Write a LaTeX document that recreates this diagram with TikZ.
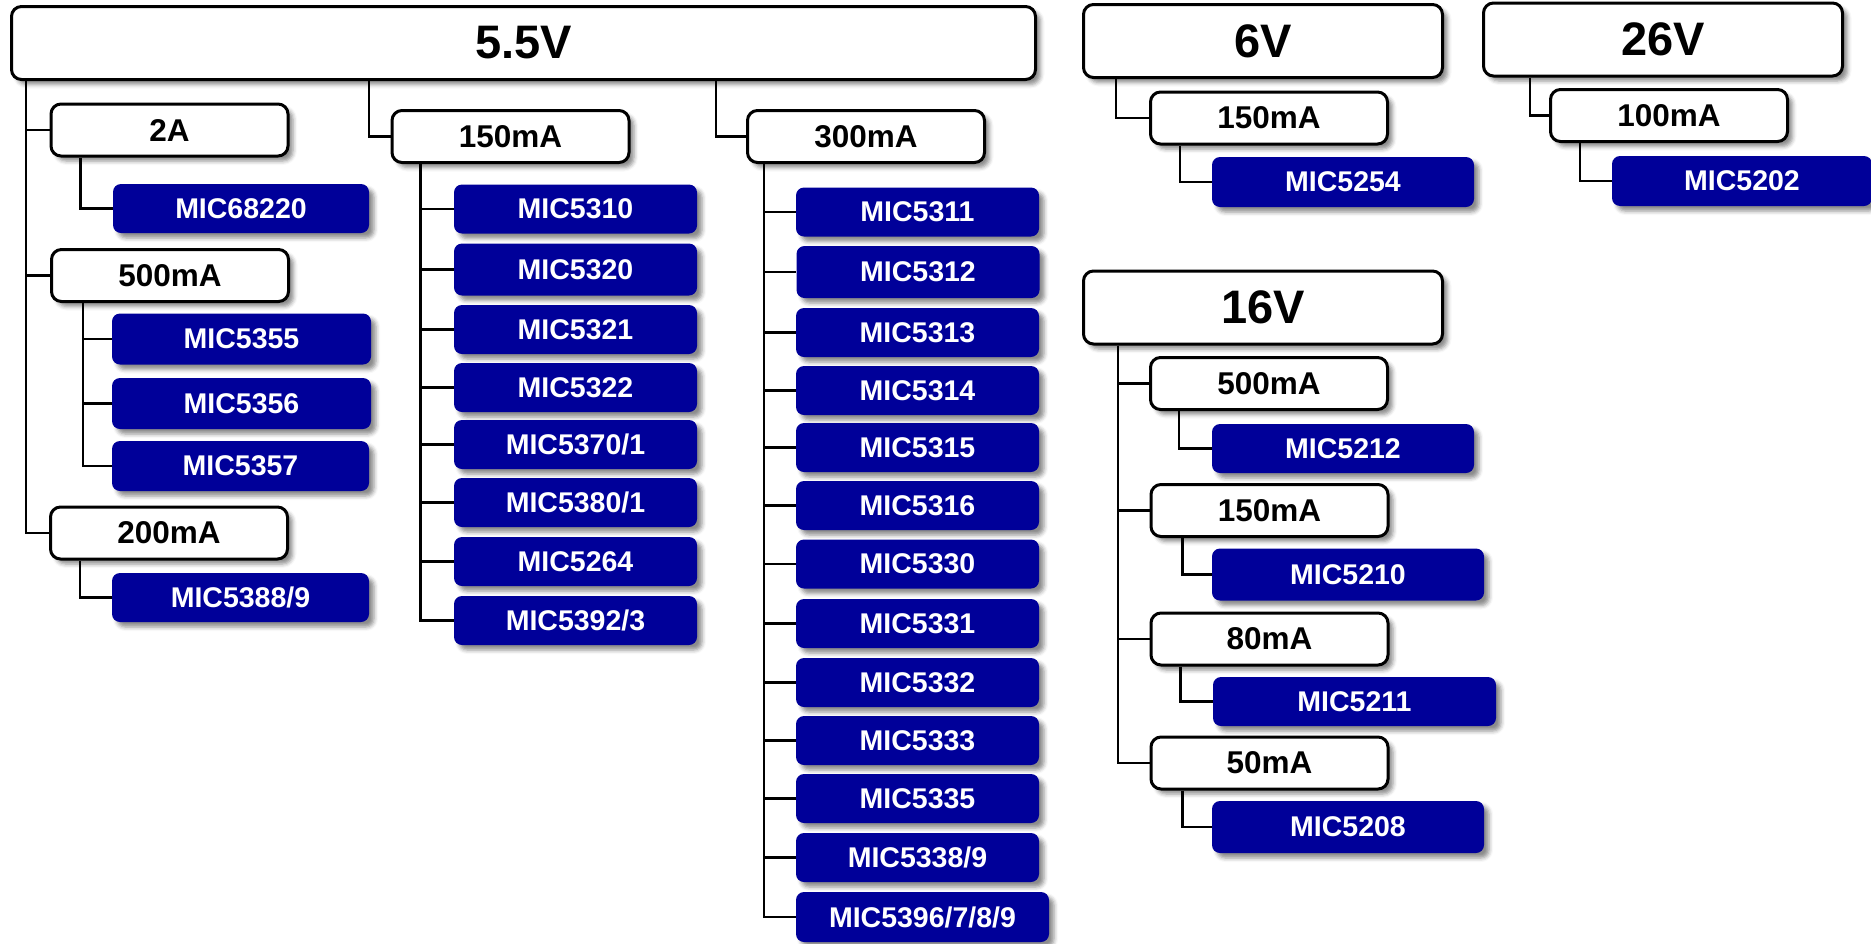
\documentclass[tikz,border=0pt]{standalone}
\usepackage{fontspec}
\setmainfont{Liberation Sans}
\usetikzlibrary{shadows.blur,backgrounds}
\definecolor{micblue}{RGB}{0,0,153}
\tikzset{
  shd/.style={blur shadow={shadow xshift=5pt,shadow yshift=-5pt,shadow opacity=45,shadow blur radius=4pt}},
  wbox/.style={draw=black,line width=3pt,fill=white,rounded corners=10pt,inner sep=0pt,shd},
  vbox/.style={wbox,minimum width=359pt,minimum height=73pt,font=\fontsize{47}{54}\selectfont\bfseries},
  cbox/.style={wbox,minimum width=237pt,minimum height=52pt,font=\fontsize{31.5}{36}\selectfont\bfseries},
  mbox/.style={fill=micblue,text=white,rounded corners=8pt,inner sep=0pt,minimum width=243pt,minimum height=49pt,font=\fontsize{28.5}{33}\selectfont\bfseries,shd},
  conn/.style={draw=black,line width=2.5pt}
}
\begin{document}
\begin{tikzpicture}[x=1pt,y=-1pt]
\useasboundingbox (0,0) rectangle (1871,943);
% voltage boxes
\node[vbox,minimum width=1024pt] (v55) at (523.5,43) {5.5V};
\node[vbox] (v6) at (1263,41) {6V};
\node[vbox] (v26) at (1663,39.5) {26V};
\node[vbox] (v16) at (1263,307.5) {16V};
% current boxes
\node[cbox] (a2A) at (169.5,130) {2A};
\node[cbox] (a500) at (170,275.5) {500mA};
\node[cbox] (a200) at (169,533) {200mA};
\node[cbox] (a150) at (510.5,136.5) {150mA};
\node[cbox] (a300) at (866,136.5) {300mA};
\node[cbox] (b150) at (1269,118) {150mA};
\node[cbox] (c100) at (1669,115.5) {100mA};
\node[cbox] (d500) at (1269,383.5) {500mA};
\node[cbox] (d150) at (1269.5,510.5) {150mA};
\node[cbox] (d80) at (1269.5,639) {80mA};
\node[cbox] (d50) at (1269.5,763) {50mA};
% 5.5V left column
\node[mbox,minimum width=256pt] (m68220) at (241,208.5) {MIC68220};
\node[mbox,minimum width=259pt,minimum height=51pt] (m5355) at (241.5,339) {MIC5355};
\node[mbox,minimum width=259pt,minimum height=51pt] (m5356) at (241.5,403.5) {MIC5356};
\node[mbox,minimum width=257pt,minimum height=50pt] (m5357) at (240.5,466) {MIC5357};
\node[mbox,minimum width=257pt] (m5388) at (240.5,597.5) {MIC5388/9};
% 150mA column
\node[mbox] (p1) at (575.5,209) {MIC5310};
\node[mbox,minimum height=52pt] (p2) at (575.5,269.5) {MIC5320};
\node[mbox] (p3) at (575.5,329.5) {MIC5321};
\node[mbox] (p4) at (575.5,387.5) {MIC5322};
\node[mbox] (p5) at (575.5,444.5) {MIC5370/1};
\node[mbox] (p6) at (575.5,502.5) {MIC5380/1};
\node[mbox] (p7) at (575.5,561.5) {MIC5264};
\node[mbox] (p8) at (575.5,620.5) {MIC5392/3};
% 300mA column
\node[mbox] (q1) at (917.5,212) {MIC5311};
\node[mbox,minimum height=52pt] (q2) at (918,272) {MIC5312};
\node[mbox] (q3) at (917.5,332.5) {MIC5313};
\node[mbox] (q4) at (917.5,390.5) {MIC5314};
\node[mbox] (q5) at (917.5,447.5) {MIC5315};
\node[mbox] (q6) at (917.5,505.5) {MIC5316};
\node[mbox] (q7) at (917.5,564) {MIC5330};
\node[mbox] (q8) at (917.5,623.5) {MIC5331};
\node[mbox] (q9) at (917.5,682.5) {MIC5332};
\node[mbox] (q10) at (917.5,740.5) {MIC5333};
\node[mbox] (q11) at (917.5,798.5) {MIC5335};
\node[mbox] (q12) at (917.5,857.5) {MIC5338/9};
\node[mbox,minimum width=253pt,minimum height=50pt] (q13) at (922.5,917) {MIC5396/7/8/9};
% right side
\node[mbox,minimum width=262pt,minimum height=50pt] (m5254) at (1343,182) {MIC5254};
\node[mbox,minimum width=260pt,minimum height=50pt] (m5202) at (1742,181) {MIC5202};
\node[mbox,minimum width=262pt] (m5212) at (1343,448.5) {MIC5212};
\node[mbox,minimum width=272pt,minimum height=52pt] (m5210) at (1348,574.5) {MIC5210};
\node[mbox,minimum width=283pt] (m5211) at (1354.5,701.5) {MIC5211};
\node[mbox,minimum width=272pt,minimum height=52pt] (m5208) at (1348,827) {MIC5208};
% connectors
\begin{pgfonlayer}{background}
\draw[conn] ([xshift=16pt]v55.south west) |- (a200.west);
\draw[conn] ([xshift=16pt]v55.south west) |- (a2A.west);
\draw[conn] ([xshift=16pt]v55.south west) |- (a500.west);
\draw[conn] ([xshift=359pt]v55.south west) |- (a150.west);
\draw[conn] ([xshift=706pt]v55.south west) |- (a300.west);
\draw[conn] ([xshift=31pt]a2A.south west) |- (m68220.west);
\draw[conn] ([xshift=33pt]a500.south west) |- (m5357.west);
\draw[conn] ([xshift=33pt]a500.south west) |- (m5355.west);
\draw[conn] ([xshift=33pt]a500.south west) |- (m5356.west);
\draw[conn] ([xshift=31pt]a200.south west) |- (m5388.west);
\foreach \k in {1,...,8} {\draw[conn] ([xshift=30pt]a150.south west) |- (p\k.west);}
\foreach \k in {1,...,13} {\draw[conn] ([xshift=18pt]a300.south west) |- (q\k.west);}
\draw[conn] ([xshift=34pt]v6.south west) |- (b150.west);
\draw[conn] ([xshift=31pt]b150.south west) |- (m5254.west);
\draw[conn] ([xshift=48pt]v26.south west) |- (c100.west);
\draw[conn] ([xshift=31pt]c100.south west) |- (m5202.west);
\draw[conn] ([xshift=36pt]v16.south west) |- (d50.west);
\draw[conn] ([xshift=36pt]v16.south west) |- (d500.west);
\draw[conn] ([xshift=36pt]v16.south west) |- (d150.west);
\draw[conn] ([xshift=36pt]v16.south west) |- (d80.west);
\draw[conn] ([xshift=30pt]d500.south west) |- (m5212.west);
\draw[conn] ([xshift=33pt]d150.south west) |- (m5210.west);
\draw[conn] ([xshift=31pt]d80.south west) |- (m5211.west);
\draw[conn] ([xshift=33pt]d50.south west) |- (m5208.west);
\end{pgfonlayer}
\end{tikzpicture}
\end{document}
